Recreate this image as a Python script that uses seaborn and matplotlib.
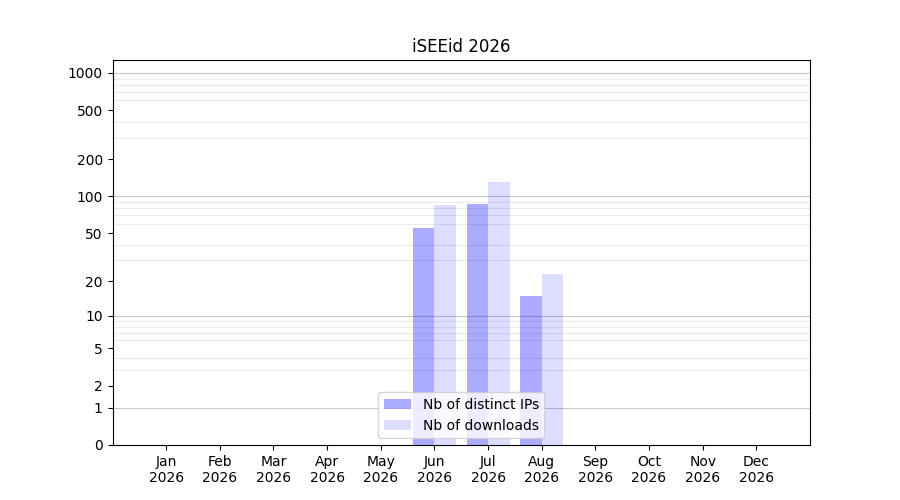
import numpy as np
import pandas as pd
import matplotlib
matplotlib.use("Agg")
import matplotlib.pyplot as plt
import seaborn as sns

months = ['Jan', 'Feb', 'Mar', 'Apr', 'May', 'Jun', 'Jul', 'Aug', 'Sep', 'Oct', 'Nov', 'Dec']
year = '2026'
distinct_ips = [0, 0, 0, 0, 0, 55, 86, 15, 0, 0, 0, 0]
downloads = [0, 0, 0, 0, 0, 85, 131, 23, 0, 0, 0, 0]
series_labels = ['Nb of distinct IPs', 'Nb of downloads']
ytick_values = [0, 1, 2, 5, 10, 20, 50, 100, 200, 500, 1000]

df = pd.DataFrame({
    'month': months * 2,
    'value': distinct_ips + downloads,
    'series': [series_labels[0]] * len(months) + [series_labels[1]] * len(months),
})

fig, ax = plt.subplots(figsize=(9, 5), dpi=100)

# log(x + 1) scale so zero months still sit on the axis
ax.set_yscale('function', functions=(lambda v: np.log10(np.clip(v, 0, None) + 1),
                                     lambda v: 10 ** v - 1))

sns.barplot(data=df, x='month', y='value', hue='series', order=months,
            hue_order=series_labels, palette=['blue', 'blue'], saturation=1,
            width=0.8, legend=False, ax=ax, zorder=2)

for container, alpha in zip(ax.containers, [0.33, 0.135]):
    for patch in container:
        patch.set_alpha(alpha)
        patch.set_edgecolor('none')

# grid: light lines at 2..9 of each decade, darker at the decades
minor = [m * 10 ** d for d in range(3) for m in range(2, 10)]
ax.set_yticks(minor, minor=True)
ax.tick_params(axis='y', which='minor', length=0)
ax.grid(True, axis='y', which='minor', color='#ebebeb', linewidth=0.8, zorder=0)
for d in [1, 10, 100, 1000]:
    ax.axhline(d, color='#c8c8c8', linewidth=0.8, zorder=1)

ax.set_yticks(ytick_values)
ax.set_yticklabels([str(v) for v in ytick_values])
ax.set_ylim(0, 1270)
ax.set_xlim(-1, 12)

ax.set_xticks(range(len(months)))
ax.set_xticklabels([f'{m}\n{year}' for m in months])
ax.set_xlabel('')
ax.set_ylabel('')
ax.set_title(f'iSEEid {year}')

ax.legend(ax.containers, series_labels, loc='lower center')

plt.savefig('out.png', dpi=100)
